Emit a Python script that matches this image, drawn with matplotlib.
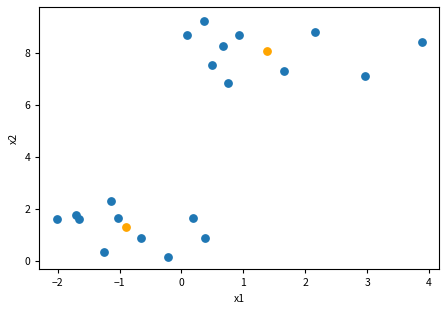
import matplotlib
matplotlib.use("Agg")
import matplotlib.pyplot as plt

plt.rcParams['font.family'] = ['Noto Sans CJK JP', 'DejaVu Sans']
plt.rcParams['font.size'] = 7.5
plt.rcParams['xtick.major.size'] = 3
plt.rcParams['ytick.major.size'] = 3

# data points
x1 = [-2.005, -1.70, -1.656, -1.133, -1.02, -1.25, -0.648, -0.223, 0.18, 0.38,
      0.09, 0.358, 0.67, 0.923, 0.494, 0.746, 1.657, 2.163, 2.96, 3.887]
x2 = [1.63, 1.77, 1.62, 2.31, 1.67, 0.33, 0.885, 0.154, 1.67, 0.885,
      8.69, 9.23, 8.27, 8.69, 7.53, 6.83, 7.29, 8.82, 7.10, 8.41]

# cluster centres
c1 = [1.383, -0.901]
c2 = [8.08, 1.295]

fig = plt.figure(figsize=(4.47, 3.11), dpi=100)
ax = fig.add_axes([0.088, 0.135, 0.894, 0.842])

ax.scatter(x1, x2, s=28, color='#1f77b4')
ax.scatter(c1, c2, s=28, color='orange')

ax.set_xlabel('x1')
ax.set_ylabel('x2')
ax.set_xticks([-2, -1, 0, 1, 2, 3, 4])
ax.set_yticks([0, 2, 4, 6, 8])
ax.set_xlim(-2.296, 4.16)
ax.set_ylim(-0.31, 9.76)

fig.savefig('out.png', dpi=100)
